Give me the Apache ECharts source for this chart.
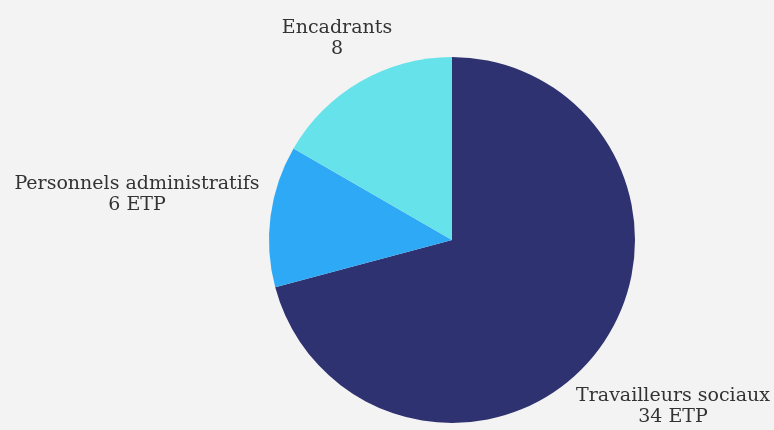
<!DOCTYPE html>
<html>
<head>
<meta charset="utf-8">
<script src="https://cdn.jsdelivr.net/npm/echarts@6/dist/echarts.min.js"></script>
<style>
html,body{margin:0;padding:0;background:#f3f3f3;}
#chart{width:774px;height:430px;}
</style>
</head>
<body>
<div id="chart"></div>
<script>
const categories = ['Travailleurs sociaux', 'Personnels administratifs', 'Encadrants'];
const values = [34, 6, 8];
const units = ['ETP', 'ETP', ''];
const colors = ['#2f3270', '#2ea9f5', '#66e2ea'];

// label anchor points (text block centres), by category index
const labelAnchors = [[673, 407], [137, 195], [337, 39]];

const chart = echarts.init(document.getElementById('chart'), null, {renderer: 'canvas'});
chart.setOption({
  backgroundColor: '#f3f3f3',
  animation: false,
  series: [{
    type: 'pie',
    center: [452, 240],
    radius: [0, 183],
    startAngle: 90,
    clockwise: true,
    avoidLabelOverlap: false,
    data: categories.map((c, i) => ({name: c, value: values[i], itemStyle: {color: colors[i]}})),
    itemStyle: {borderWidth: 0},
    label: {
      show: true,
      position: 'outside',
      fontFamily: 'DejaVu Serif',
      fontSize: 19,
      lineHeight: 21,
      color: '#333333',
      formatter: p => p.name + '\n' + p.value + (units[p.dataIndex] ? ' ' + units[p.dataIndex] : '')
    },
    labelLine: {show: false},
    labelLayout: p => ({
      x: labelAnchors[p.dataIndex][0],
      y: labelAnchors[p.dataIndex][1],
      align: 'center',
      verticalAlign: 'middle'
    })
  }]
});
</script>
</body>
</html>
